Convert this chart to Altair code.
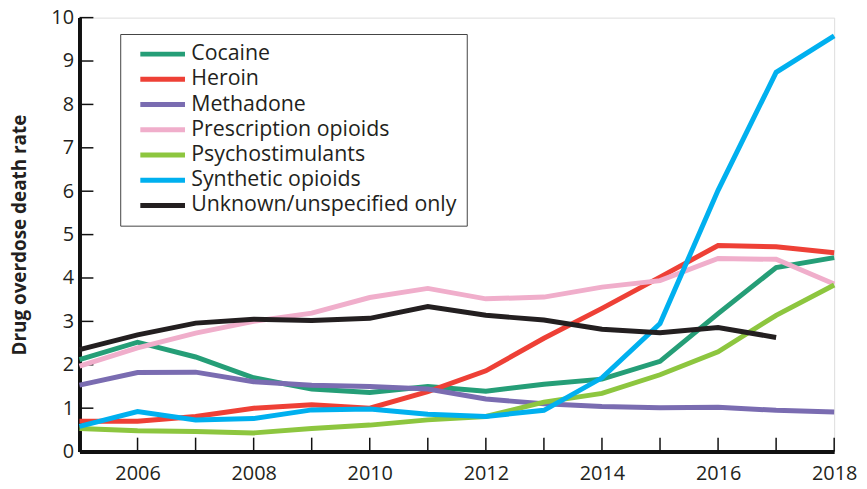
import altair as alt
import pandas as pd

years = list(range(2005, 2019))
y_ticks = list(range(0, 11))
series_names = ["Cocaine", "Heroin", "Methadone", "Prescription opioids",
                "Psychostimulants", "Synthetic opioids", "Unknown/unspecified only"]
series_colors = ["#259e77", "#ee4036", "#7a6cb1", "#f0aecb", "#8dc63f", "#00b0ef", "#231f20"]

cocaine = [2.12, 2.52, 2.18, 1.70, 1.44, 1.36, 1.50, 1.39, 1.55, 1.67, 2.08, 3.18, 4.24, 4.47]
heroin = [0.70, 0.70, 0.81, 1.00, 1.08, 1.00, 1.38, 1.86, 2.61, 3.30, 4.02, 4.75, 4.72, 4.58]
methadone = [1.53, 1.82, 1.83, 1.61, 1.53, 1.50, 1.44, 1.21, 1.10, 1.04, 1.01, 1.02, 0.95, 0.91]
prescription = [1.97, 2.39, 2.73, 3.00, 3.19, 3.55, 3.76, 3.52, 3.56, 3.79, 3.94, 4.45, 4.43, 3.86]
psychostimulants = [0.53, 0.48, 0.46, 0.43, 0.53, 0.61, 0.73, 0.81, 1.14, 1.34, 1.77, 2.30, 3.14, 3.84]
synthetic = [0.58, 0.92, 0.73, 0.76, 0.96, 0.98, 0.86, 0.81, 0.95, 1.70, 2.95, 6.02, 8.74, 9.58]
unknown = [2.35, 2.69, 2.96, 3.05, 3.02, 3.07, 3.34, 3.14, 3.03, 2.82, 2.74, 2.86, 2.63, None]

all_series = [cocaine, heroin, methadone, prescription, psychostimulants, synthetic, unknown]

rows = []
for name, vals in zip(series_names, all_series):
    for y, v in zip(years, vals):
        if v is not None:
            rows.append({"year": y, "rate": v, "drug": name})
df = pd.DataFrame(rows)

FONT = "Open Sans"
INK = "#231f20"
TICK_LEN = 14
PLOT_W = 760
PLOT_H = 437

x_scale = alt.Scale(domain=[2005, 2018], nice=False, zero=False)
y_scale = alt.Scale(domain=[0, 10], nice=False)

lines = alt.Chart(df).mark_line(strokeWidth=5).encode(
    x=alt.X("year:Q", scale=x_scale,
            axis=alt.Axis(title=None, values=years, format="d",
                          labelExpr="datum.value % 2 == 0 ? datum.label : ''",
                          labelOverlap=False, labelFlush=False,
                          labelFontSize=20, labelColor=INK, labelFont=FONT,
                          labelPadding=12, ticks=False,
                          domainColor="#111", domainWidth=4, grid=False)),
    y=alt.Y("rate:Q", scale=y_scale,
            axis=alt.Axis(title="Drug overdose death rate", values=y_ticks,
                          titleFont=FONT, titleFontSize=19, titleFontWeight="bold",
                          titleColor=INK, titlePadding=22,
                          labelFontSize=20, labelColor=INK, labelFont=FONT,
                          labelPadding=6, ticks=False,
                          domainColor="#111", domainWidth=4, grid=False)),
    color=alt.Color("drug:N",
                    scale=alt.Scale(domain=series_names, range=series_colors),
                    sort=series_names,
                    legend=alt.Legend(title=None, orient="none", legendX=41, legendY=16.5,
                                      symbolType="M-4,0H4", symbolStrokeWidth=5,
                                      symbolSize=126.5, symbolOffset=22.5,
                                      labelFontSize=21.5, labelFont=FONT, labelColor=INK,
                                      labelOffset=18, labelLimit=400,
                                      strokeColor="#444", padding=9.5,
                                      rowPadding=2.4, fillColor="white")),
)

xt = pd.DataFrame({"year": years})
yt = pd.DataFrame({"rate": y_ticks})

x_ticks = alt.Chart(xt).mark_rule(color="#111", strokeWidth=1.5).encode(
    x=alt.X("year:Q", scale=x_scale),
    y=alt.value(PLOT_H), y2=alt.value(PLOT_H - TICK_LEN),
)
y_ticks_layer = alt.Chart(yt).mark_rule(color="#111", strokeWidth=1.5).encode(
    y=alt.Y("rate:Q", scale=y_scale),
    x=alt.value(0), x2=alt.value(TICK_LEN),
)

chart = alt.layer(x_ticks, y_ticks_layer, lines).properties(
    width=PLOT_W,
    height=PLOT_H,
    padding={"left": 72, "top": 8, "right": 25, "bottom": 36},
    autosize=alt.AutoSizeParams(type="none"),
).configure_view(
    stroke="#555", strokeWidth=1.5
).configure(font=FONT)

chart.save("out.html", embed_options={"renderer": "svg", "actions": False})
